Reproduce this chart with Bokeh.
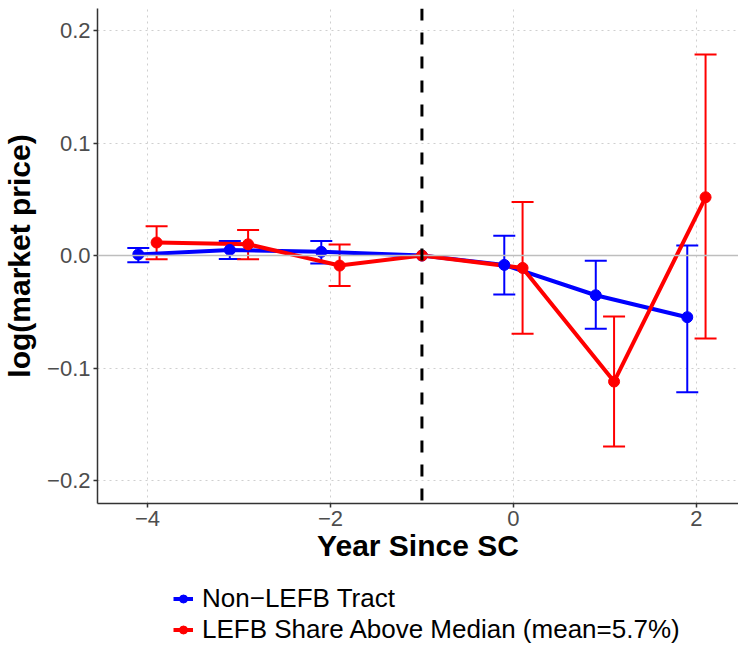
from bokeh.plotting import figure
from bokeh.layouts import column
from bokeh.models import (Range1d, FixedTicker, CustomJSTickFormatter, Span, Whisker,
                          TeeHead, ColumnDataSource, Legend, LegendItem)
from bokeh.embed import file_html
from bokeh.resources import INLINE

# ---- data ----
years = [-4, -3, -2, -1, 0, 1, 2]
ref_year = -1
dodge = 0.1

non_est = [0.001, 0.005, 0.0033, 0.0, -0.0083, -0.0353, -0.0548]
non_lo = [-0.006, -0.003, -0.007, 0.0, -0.0347, -0.065, -0.1215]
non_hi = [0.0068, 0.013, 0.013, 0.0, 0.0175, -0.0047, 0.0089]

lefb_est = [0.0116, 0.010, -0.0089, 0.0, -0.011, -0.112, 0.0518]
lefb_lo = [-0.0033, -0.0033, -0.027, 0.0, -0.0696, -0.1698, -0.0738]
lefb_hi = [0.026, 0.0228, 0.0098, 0.0, 0.0477, -0.0542, 0.1787]

x_ticks = [-4, -2, 0, 2]
y_ticks = [-0.2, -0.1, 0.0, 0.1, 0.2]

series_names = ["Non\u2212LEFB Tract", "LEFB Share Above Median (mean=5.7%)"]
series_colors = ["#0000FF", "#FF0000"]

FONT = "Liberation Sans"

p = figure(frame_width=641, frame_height=495,
           x_range=Range1d(-4.546, 2.46), y_range=Range1d(-0.2204, 0.2196),
           output_backend="svg", toolbar_location=None,
           min_border_left=97, min_border_right=0, min_border_top=8,
           min_border_bottom=80)
p.outline_line_color = None
p.background_fill_color = "white"
p.border_fill_color = "white"

# grid
p.xgrid.ticker = FixedTicker(ticks=x_ticks)
p.ygrid.ticker = FixedTicker(ticks=y_ticks)
for g in (p.xgrid, p.ygrid):
    g.grid_line_color = "#CFCFCF"
    g.grid_line_dash = "2 4"
    g.grid_line_width = 1

# axes
p.xaxis.ticker = FixedTicker(ticks=x_ticks)
p.yaxis.ticker = FixedTicker(ticks=y_ticks)
p.xaxis.formatter = CustomJSTickFormatter(code="return tick.toFixed(0).replace('-', '\u2212');")
p.yaxis.formatter = CustomJSTickFormatter(code="return tick.toFixed(1).replace('-', '\u2212');")
for ax in (p.xaxis, p.yaxis):
    ax.axis_line_color = "#333333"
    ax.axis_line_width = 1.5
    ax.major_tick_line_color = "#333333"
    ax.major_tick_line_width = 1.5
    ax.major_tick_out = 4
    ax.major_tick_in = 0
    ax.minor_tick_line_color = None
    ax.major_label_text_font = FONT
    ax.major_label_text_font_size = "22px"
    ax.major_label_text_color = "#4D4D4D"
    ax.axis_label_text_font = FONT
    ax.axis_label_text_font_size = "30px"
    ax.axis_label_text_font_style = "bold"
    ax.axis_label_text_color = "black"
p.xaxis.axis_label = "Year Since SC"
p.yaxis.axis_label = "log(market price)"
p.xaxis.major_label_standoff = 3
p.xaxis.axis_label_standoff = 0
p.yaxis.major_label_standoff = 3
p.yaxis.axis_label_standoff = 8

# reference lines
p.add_layout(Span(location=0, dimension="width", line_color="#BEBEBE", line_width=1.5))
p.add_layout(Span(location=ref_year, dimension="height", line_color="black",
                  line_width=3, line_dash="12 12"))

offsets = [-dodge, dodge]
series = [(non_est, non_lo, non_hi), (lefb_est, lefb_lo, lefb_hi)]
sources = []
for (est, lo, hi), off, col in zip(series, offsets, series_colors):
    xs = [y if y == ref_year else y + off for y in years]
    src = ColumnDataSource(dict(x=xs, est=est, lo=lo, hi=hi))
    keep = [i for i, y in enumerate(years) if y != ref_year]
    esrc = ColumnDataSource(dict(x=[xs[i] for i in keep], lo=[lo[i] for i in keep],
                                 hi=[hi[i] for i in keep]))
    w = Whisker(base="x", lower="lo", upper="hi", source=esrc, dimension="height",
                line_color=col, line_width=2,
                upper_head=TeeHead(size=22, line_color=col, line_width=2),
                lower_head=TeeHead(size=22, line_color=col, line_width=2))
    p.add_layout(w)
    p.line("x", "est", source=src, line_color=col, line_width=4)
    sources.append((src, col))

for src, col in sources:
    p.scatter("x", "est", source=src, size=11, fill_color=col, line_color=col)

# ---- legend strip below the plot (its frame is aligned with the plot's frame) ----
lf = figure(width=738, height=64, output_backend="svg", toolbar_location=None,
            x_axis_type=None, y_axis_type=None, min_border=0,
            x_range=Range1d(100, 101), y_range=Range1d(100, 101))
lf.outline_line_color = None
lf.xgrid.visible = False
lf.ygrid.visible = False
items = []
for name, (src, col) in zip(series_names, sources):
    lr = lf.line("x", "est", source=src, line_color=col, line_width=4)
    pr = lf.scatter("x", "est", source=src, size=11, fill_color=col, line_color=col)
    items.append(LegendItem(label=name, renderers=[lr, pr]))
legend = Legend(items=items, location=(76, 2), orientation="vertical",
                label_text_font=FONT, label_text_font_size="26px", label_text_color="black",
                glyph_width=20, glyph_height=31, label_height=31, spacing=0,
                padding=0, margin=0, label_standoff=9,
                border_line_alpha=0, background_fill_alpha=0)
lf.add_layout(legend, "center")

layout = column(p, lf, spacing=0)
open("out.html", "w").write(file_html(layout, INLINE))
